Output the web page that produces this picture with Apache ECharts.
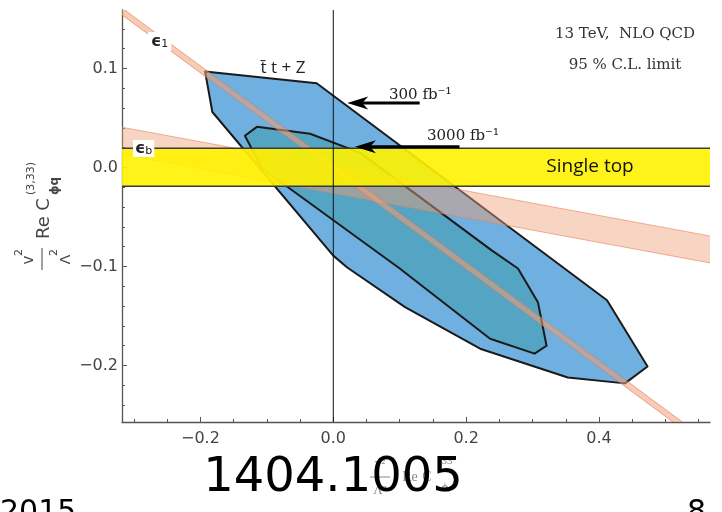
<!DOCTYPE html>
<html><head><meta charset="utf-8">
<script src="https://cdn.jsdelivr.net/npm/echarts@6/dist/echarts.min.js"></script>
<style>html,body{margin:0;padding:0;background:#fff}#c{width:722px;height:512px}</style>
</head><body><div id="c"></div>
<script>
// ---- axes ----
const xRange = [-0.318, 0.567];
const yRange = [-0.257, 0.159];
const xMajorTicks = [-0.2, 0, 0.2, 0.4];
const xMinorTicks = [-0.3,-0.25,-0.15,-0.1,-0.05,0.05,0.1,0.15,0.25,0.3,0.35,0.45,0.5,0.55];
const yMajorTicks = [-0.2, -0.1, 0, 0.1];
const yMinorTicks = [-0.24,-0.22,-0.18,-0.16,-0.14,-0.12,-0.08,-0.06,-0.04,-0.02,0.02,0.04,0.06,0.08,0.12,0.14];

// ---- regions (x = Re C_phi^33 v^2/L^2, y = Re C_phi q^(3,33) v^2/L^2) ----
const region300 = [[-0.193,0.097],[-0.025,0.085],[0.412,-0.134],[0.473,-0.201],[0.439,-0.218],[0.353,-0.212],[0.221,-0.183],[0.108,-0.141],[0.021,-0.101],[0.000,-0.089],[-0.182,0.056]];
const region3000 = [[-0.133,0.032],[-0.115,0.041],[-0.035,0.034],[0.040,0.015],[0.239,-0.084],[0.278,-0.102],[0.308,-0.136],[0.321,-0.180],[0.303,-0.188],[0.236,-0.173],[0.100,-0.102],[-0.107,-0.001]];
const eps1Band = [[-0.33,0.167],[0.58,-0.284],[0.58,-0.291],[-0.33,0.160]];
const epsbBand = [[-0.33,0.0421],[0.58,-0.0708],[0.58,-0.0980],[-0.33,0.0148]];
const singleTop = [-0.019, 0.0194];
const arrows = [{from:[0.130,0.065], to:[0.021,0.065]}, {from:[0.190,0.021], to:[0.0326,0.021]}];

const fmt = v => (v < 0 ? '\u2212' : '') + Math.abs(v).toFixed(1);
const tickFont = 'DejaVu Sans';

function polySeries(pts, style, z) {
  return {
    type: 'custom', coordinateSystem: 'cartesian2d', clip: true, z: z, silent: true,
    data: [[0, 0]],
    renderItem: (params, api) => ({
      type: 'polygon',
      shape: { points: pts.map(p => api.coord(p)) },
      style: style
    })
  };
}
function lineSeries(data, color, width, z) {
  return { type: 'line', data: data, symbol: 'none', z: z, silent: true, animation: false,
    lineStyle: { color: color, width: width } };
}

const chart = echarts.init(document.getElementById('c'), null, { renderer: 'canvas' });
const ax = (min, max) => ({ type: 'value', min: min, max: max, splitLine: { show: false } });

chart.setOption({
  animation: false,
  backgroundColor: '#fff',
  grid: { left: 122, right: 12, top: 10, bottom: 90 },
  xAxis: [
    Object.assign(ax(xRange[0], xRange[1]), {
      position: 'bottom',
      axisLine: { show: true, onZero: false, lineStyle: { color: '#555', width: 1.3 } },
      axisTick: { show: true, inside: true, length: 5, customValues: xMajorTicks, lineStyle: { color: '#555' } },
      axisLabel: { customValues: xMajorTicks, formatter: fmt, color: '#444', fontSize: 16, fontFamily: tickFont, margin: 9 }
    }),
    Object.assign(ax(xRange[0], xRange[1]), {
      position: 'bottom',
      axisLine: { show: false, onZero: false },
      axisTick: { show: true, inside: true, length: 3, customValues: xMinorTicks, lineStyle: { color: '#555' } },
      axisLabel: { show: false }
    })
  ],
  yAxis: [
    Object.assign(ax(yRange[0], yRange[1]), {
      position: 'left',
      axisLine: { show: true, onZero: false, lineStyle: { color: '#555', width: 1.3 } },
      axisTick: { show: true, inside: true, length: 5, customValues: yMajorTicks, lineStyle: { color: '#555' } },
      axisLabel: { customValues: yMajorTicks, formatter: fmt, color: '#444', fontSize: 16, fontFamily: tickFont, margin: 4 }
    }),
    Object.assign(ax(yRange[0], yRange[1]), {
      position: 'left',
      axisLine: { show: false, onZero: false },
      axisTick: { show: true, inside: true, length: 3, customValues: yMinorTicks, lineStyle: { color: '#555' } },
      axisLabel: { show: false }
    })
  ],
  series: [
    polySeries(region300, { fill: 'rgb(111,176,224)', stroke: '#1a1a1a', lineWidth: 2, lineJoin: 'round' }, 1),
    polySeries(region3000, { fill: 'rgb(84,164,196)', stroke: '#1a1a1a', lineWidth: 2, lineJoin: 'round' }, 2),
    polySeries(epsbBand, { fill: 'rgba(240,160,120,0.45)', stroke: 'rgba(230,130,90,0.6)', lineWidth: 1 }, 3),
    polySeries(eps1Band, { fill: 'rgba(240,160,120,0.55)', stroke: 'rgba(220,120,80,0.6)', lineWidth: 1 }, 3),
    polySeries([[xRange[0], singleTop[1]], [xRange[1], singleTop[1]], [xRange[1], singleTop[0]], [xRange[0], singleTop[0]]],
      { fill: 'rgba(255,242,0,0.9)' }, 4),
    lineSeries([[xRange[0], singleTop[1]], [xRange[1], singleTop[1]]], '#3a3a3a', 1.5, 5),
    lineSeries([[xRange[0], singleTop[0]], [xRange[1], singleTop[0]]], '#3a3a3a', 1.5, 5),
    lineSeries([[0, yRange[0]], [0, yRange[1]]], '#111', 1, 5),
    {
      type: 'custom', coordinateSystem: 'cartesian2d', z: 6, silent: true,
      data: arrows.map(a => a.to),
      renderItem: (params, api) => {
        const a = arrows[params.dataIndex];
        const t = api.coord(a.to), f = api.coord(a.from);
        return { type: 'group', children: [
          { type: 'line', shape: { x1: t[0] + 14, y1: t[1], x2: f[0], y2: f[1] }, style: { stroke: '#000', lineWidth: 3 } },
          { type: 'polygon', shape: { points: [[t[0], t[1]], [t[0] + 21, t[1] - 6.5], [t[0] + 15, t[1]], [t[0] + 21, t[1] + 6.5]] }, style: { fill: '#000' } }
        ] };
      }
    }
  ],
  graphic: [
    // epsilon labels
    { type: 'text', z: 50, x: 148, y: 32, style: { text: '{e|\u03F5}{s|1}', backgroundColor: '#fff', padding: [1, 3, 1, 3],
        rich: { e: { font: 'bold 16px DejaVu Sans', fill: '#222' }, s: { font: '11px DejaVu Sans', fill: '#222', verticalAlign: 'bottom', padding: [6, 0, 0, 0] } } } },
    { type: 'text', z: 50, x: 133, y: 140, style: { text: '{e|\u03F5}{s|b}', backgroundColor: '#fff', padding: [0, 2, 0, 2],
        rich: { e: { font: 'bold 16px DejaVu Sans', fill: '#222' }, s: { font: '11px DejaVu Sans', fill: '#222', padding: [6, 0, 0, 0] } } } },
    { type: 'text', z: 50, x: 283, y: 68, style: { text: 't\u0304 t + Z', font: '17px "Open Sans"', fill: '#222', align: 'center', verticalAlign: 'middle' } },
    { type: 'text', z: 50, x: 625, y: 34, style: { text: '13 TeV,  NLO QCD', font: '15px "DejaVu Serif"', fill: '#333', align: 'center', verticalAlign: 'middle' } },
    { type: 'text', z: 50, x: 625, y: 65, style: { text: '95 % C.L. limit', font: '15px "DejaVu Serif"', fill: '#333', align: 'center', verticalAlign: 'middle' } },
    { type: 'text', z: 50, x: 389, y: 95, style: { text: '300 fb\u207B\u00B9', font: '15px "DejaVu Serif"', fill: '#222', align: 'left', verticalAlign: 'middle' } },
    { type: 'text', z: 50, x: 427, y: 136, style: { text: '3000 fb\u207B\u00B9', font: '15px "DejaVu Serif"', fill: '#222', align: 'left', verticalAlign: 'middle' } },
    { type: 'text', z: 50, x: 590, y: 167, style: { text: 'Single top', font: '19px "Open Sans"', fill: '#111', align: 'center', verticalAlign: 'middle' } },
    // y-axis title (rotated)
    { type: 'group', x: 50, y: 272, rotation: Math.PI / 2, z: 50, children: [
      { type: 'text', style: { text: 'v', x: 12, y: -21, font: '15px DejaVu Sans', fill: '#444', align: 'center', verticalAlign: 'middle' } },
      { type: 'text', style: { text: '2', x: 19.5, y: -31, font: '11px DejaVu Sans', fill: '#444', align: 'center', verticalAlign: 'middle' } },
      { type: 'line', shape: { x1: 2, y1: -8, x2: 24, y2: -8 }, style: { stroke: '#444', lineWidth: 1 } },
      { type: 'text', style: { text: '\u039B', x: 12.5, y: 16, font: '14px DejaVu Sans', fill: '#444', align: 'center', verticalAlign: 'middle' } },
      { type: 'text', style: { text: '2', x: 19.5, y: 4, font: '11px DejaVu Sans', fill: '#444', align: 'center', verticalAlign: 'middle' } },
      { type: 'text', style: { text: 'Re', x: 44.5, y: -6, font: '18px DejaVu Sans', fill: '#444', align: 'center', verticalAlign: 'middle' } },
      { type: 'text', style: { text: 'C', x: 67.5, y: -6, font: '18px DejaVu Sans', fill: '#444', align: 'center', verticalAlign: 'middle' } },
      { type: 'text', style: { text: '(3,33)', x: 93.5, y: -19, font: '11px DejaVu Sans', fill: '#444', align: 'center', verticalAlign: 'middle' } },
      { type: 'text', style: { text: '\u03D5q', x: 86, y: 5, font: 'bold 12px DejaVu Sans', fill: '#444', align: 'center', verticalAlign: 'middle' } }
    ] },
    // faint x-axis title behind the slide number
    { type: 'group', x: 0, y: 0, z: 40, children: [
      { type: 'text', style: { text: 'v\u00B2', x: 380, y: 464, font: '13px "Liberation Serif"', fill: '#888', align: 'center', verticalAlign: 'middle' } },
      { type: 'line', shape: { x1: 370, y1: 477, x2: 390, y2: 477 }, style: { stroke: '#888', lineWidth: 1 } },
      { type: 'text', style: { text: '\u039B\u00B2', x: 380, y: 491, font: '13px "Liberation Serif"', fill: '#888', align: 'center', verticalAlign: 'middle' } },
      { type: 'text', style: { text: 'Re', x: 410, y: 477, font: '14px "Liberation Serif"', fill: '#888', align: 'center', verticalAlign: 'middle' } },
      { type: 'text', style: { text: 'C', x: 427, y: 477, font: '14px "Liberation Serif"', fill: '#888', align: 'center', verticalAlign: 'middle' } },
      { type: 'text', style: { text: '33', x: 447, y: 461, font: '11px "Liberation Serif"', fill: '#888', align: 'center', verticalAlign: 'middle' } },
      { type: 'text', style: { text: '\u03D5', x: 445, y: 487, font: 'bold 11px "Liberation Serif"', fill: '#888', align: 'center', verticalAlign: 'middle' } }
    ] },
    { type: 'text', z: 60, x: 333, y: 503, style: { text: '1404.1005', font: '48px "DejaVu Sans"', fill: '#000', align: 'center', verticalAlign: 'bottom' } },
    { type: 'text', z: 60, x: 0, y: 528, style: { text: '2015', font: '30px "DejaVu Sans"', fill: '#000', align: 'left', verticalAlign: 'bottom' } },
    { type: 'text', z: 60, x: 687, y: 528, style: { text: '8', font: '30px "DejaVu Sans"', fill: '#000', align: 'left', verticalAlign: 'bottom' } }
  ]
});
</script></body></html>
